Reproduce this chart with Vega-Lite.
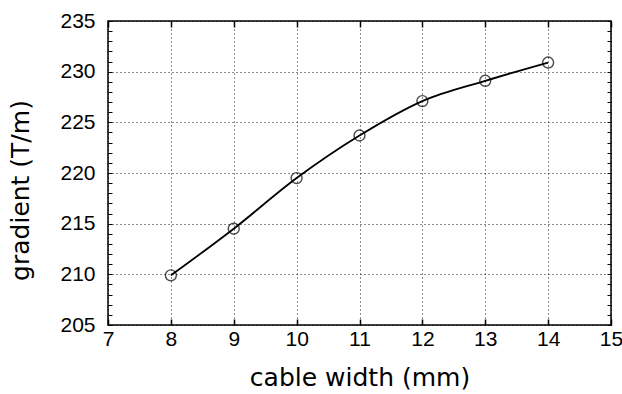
{
  "$schema": "https://vega.github.io/schema/vega-lite/v6.json",
  "autosize": "none",
  "width": 503,
  "height": 304,
  "padding": {"left": 108, "top": 21, "right": 11, "bottom": 69},
  "background": "white",
  "config": {
    "view": {"stroke": "black", "strokeWidth": 1.5},
    "axis": {"labelFont": "Liberation Sans", "titleFont": "DejaVu Sans", "labelColor": "black", "titleColor": "black", "titleFontWeight": "normal", "domain": false, "tickColor": "black"}
  },
  "data": {"values": [
    {"width": 8, "gradient": 209.9},
    {"width": 9, "gradient": 214.5},
    {"width": 10, "gradient": 219.5},
    {"width": 11, "gradient": 223.7},
    {"width": 12, "gradient": 227.1},
    {"width": 13, "gradient": 229.1},
    {"width": 14, "gradient": 230.9}
  ]},
  "resolve": {"axis": {"x": "independent", "y": "independent"}},
  "layer": [
    {
      "mark": {"type": "line", "color": "black", "strokeWidth": 1.8, "interpolate": "monotone"},
      "encoding": {
        "x": {"field": "width", "type": "quantitative", "scale": {"domain": [7, 15], "nice": false},
          "axis": {"title": "cable width (mm)", "titleFontSize": 25, "titlePadding": 16, "labelFontSize": 21, "labelPadding": 9, "values": [7, 8, 9, 10, 11, 12, 13, 14, 15], "grid": true, "gridColor": "black", "gridDash": [1, 3], "gridWidth": 1, "gridOpacity": 0.9, "tickSize": -6, "tickWidth": 1.5, "labelFlush": false}},
        "y": {"field": "gradient", "type": "quantitative", "scale": {"domain": [205, 235], "nice": false, "zero": false},
          "axis": {"title": "gradient (T/m)", "titleFontSize": 25, "titlePadding": 26, "titleY": 169, "labelFontSize": 21, "labelPadding": 13, "values": [205, 210, 215, 220, 225, 230, 235], "grid": true, "gridColor": "black", "gridDash": [1, 3], "gridWidth": 1, "gridOpacity": 0.9, "tickSize": 0, "labelFlush": false}}
      }
    },
    {
      "mark": {"type": "point", "shape": "circle", "size": 120, "color": "black", "strokeWidth": 1.4, "filled": false},
      "encoding": {
        "x": {"field": "width", "type": "quantitative",
          "axis": {"orient": "top", "title": null, "labels": false, "grid": false, "values": [7, 8, 9, 10, 11, 12, 13, 14, 15], "tickSize": -6, "tickWidth": 1.5}},
        "y": {"field": "gradient", "type": "quantitative",
          "axis": {"orient": "left", "title": null, "labels": false, "grid": false, "values": [205, 206, 207, 208, 209, 210, 211, 212, 213, 214, 215, 216, 217, 218, 219, 220, 221, 222, 223, 224, 225, 226, 227, 228, 229, 230, 231, 232, 233, 234, 235], "tickSize": -4, "tickWidth": 1}}
      }
    },
    {
      "mark": {"type": "point", "opacity": 0},
      "encoding": {
        "x": {"field": "width", "type": "quantitative", "axis": null},
        "y": {"field": "gradient", "type": "quantitative",
          "axis": {"orient": "right", "title": null, "labels": false, "grid": false, "values": [205, 206, 207, 208, 209, 210, 211, 212, 213, 214, 215, 216, 217, 218, 219, 220, 221, 222, 223, 224, 225, 226, 227, 228, 229, 230, 231, 232, 233, 234, 235], "tickSize": -4, "tickWidth": 1}}
      }
    }
  ]
}
